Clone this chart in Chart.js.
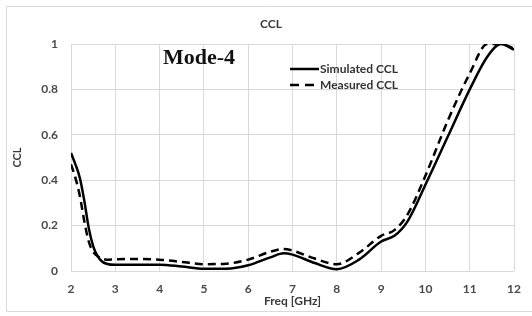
<!DOCTYPE html>
<html>
<head>
<meta charset="utf-8">
<script src="https://cdn.jsdelivr.net/npm/chart.js@4.4.1/dist/chart.umd.min.js"></script>
<style>
html,body{margin:0;padding:0;background:#fff;}
#wrap{position:relative;width:532px;height:316px;}
</style>
</head>
<body>
<div id="wrap"><canvas id="c" width="532" height="316"></canvas></div>
<script>
const freqGHz = [2, 2.1, 2.2, 2.3, 2.4, 2.5, 2.6, 2.7, 2.8, 3, 3.5, 4, 4.5, 5, 5.5, 6, 6.5, 6.8, 7, 7.5, 8, 8.5, 9, 9.3, 9.6, 10, 10.5, 11, 11.4, 11.7, 12];
const simulatedCCL = [0.52, 0.47, 0.41, 0.31, 0.19, 0.11, 0.065, 0.042, 0.032, 0.027, 0.027, 0.028, 0.02, 0.01, 0.01, 0.025, 0.06, 0.078, 0.072, 0.035, 0.008, 0.05, 0.13, 0.155, 0.22, 0.38, 0.59, 0.80, 0.945, 1.0, 0.975];
const measuredCCL = [0.47, 0.41, 0.33, 0.22, 0.13, 0.085, 0.065, 0.055, 0.05, 0.052, 0.053, 0.05, 0.04, 0.03, 0.032, 0.05, 0.085, 0.097, 0.09, 0.055, 0.03, 0.08, 0.155, 0.18, 0.25, 0.42, 0.66, 0.87, 1.0, 1.0, 0.98];
const xTicks = [2, 3, 4, 5, 6, 7, 8, 9, 10, 11, 12];
const yTicks = [0, 0.2, 0.4, 0.6, 0.8, 1];
const seriesNames = ['Simulated CCL', 'Measured CCL'];
const chartTitle = 'CCL';
const annotationText = 'Mode-4';
const xTitle = 'Freq [GHz]';
const yTitle = 'CCL';

const toPts = (ys) => freqGHz.map((f, i) => ({x: f, y: ys[i]}));
const TXT = '#3a3a3a';
const LBL = '#4a4a4a';
const GRID = '#d9d9d9';

const decor = {
  id: 'decor',
  beforeDraw(chart) {
    const ctx = chart.ctx;
    ctx.save();
    ctx.strokeStyle = '#d9d9d9';
    ctx.lineWidth = 1;
    ctx.beginPath();
    ctx.moveTo(532, 6.5); ctx.lineTo(6.5, 6.5); ctx.lineTo(6.5, 311.5); ctx.lineTo(532, 311.5);
    ctx.stroke();
    ctx.restore();
  },
  afterDraw(chart) {
    const ctx = chart.ctx;
    ctx.save();
    ctx.fillStyle = TXT;
    ctx.font = 'bold 12px Lato';
    ctx.textAlign = 'center';
    ctx.textBaseline = 'middle';
    ctx.fillText(chartTitle, 271, 24);
    ctx.fillStyle = '#111';
    ctx.font = 'bold 22px "Liberation Serif"';
    ctx.textAlign = 'left';
    ctx.fillText(annotationText, 163, 58);
    ctx.strokeStyle = '#000';
    ctx.lineWidth = 2.5;
    ctx.beginPath(); ctx.moveTo(290, 69); ctx.lineTo(319, 69); ctx.stroke();
    ctx.setLineDash([9, 6]);
    ctx.beginPath(); ctx.moveTo(290, 85); ctx.lineTo(317, 85); ctx.stroke();
    ctx.setLineDash([]);
    ctx.fillStyle = '#333';
    ctx.font = 'bold 12px Lato';
    ctx.fillText(seriesNames[0], 320, 69);
    ctx.fillText(seriesNames[1], 320, 85);
    ctx.restore();
  }
};

new Chart(document.getElementById('c'), {
  type: 'line',
  data: {
    datasets: [
      {label: seriesNames[0], data: toPts(simulatedCCL), borderColor: '#000', borderWidth: 2.5, pointRadius: 0, cubicInterpolationMode: 'monotone', fill: false},
      {label: seriesNames[1], data: toPts(measuredCCL), borderColor: '#000', borderWidth: 2.5, borderDash: [8, 5], pointRadius: 0, cubicInterpolationMode: 'monotone', fill: false}
    ]
  },
  options: {
    responsive: false,
    animation: false,
    devicePixelRatio: 1,
    layout: {padding: {left: 0, top: 44, right: 17, bottom: 0}},
    plugins: {legend: {display: false}, title: {display: false}, tooltip: {enabled: false}},
    scales: {
      x: {
        type: 'linear', min: 2, max: 12,
        afterBuildTicks: (s) => { s.ticks = xTicks.map(v => ({value: v})); },
        afterFit: (s) => { s.height = 45; },
        grid: {color: GRID, lineWidth: 1, drawTicks: false},
        border: {display: false},
        ticks: {padding: 11, color: LBL, font: {family: 'Lato', weight: 'bold', size: 12}, maxRotation: 0},
        title: {display: true, text: xTitle, color: TXT, font: {family: 'Lato', weight: 'bold', size: 12}, padding: {top: 0, bottom: 8}}
      },
      y: {
        type: 'linear', min: 0, max: 1,
        afterBuildTicks: (s) => { s.ticks = yTicks.map(v => ({value: v})); },
        afterFit: (s) => { s.width = 71; },
        grid: {color: GRID, lineWidth: 1, drawTicks: false},
        border: {display: false},
        ticks: {padding: 13, color: LBL, font: {family: 'Lato', weight: 'bold', size: 12}, callback: (v) => String(v)},
        title: {display: true, text: yTitle, color: TXT, font: {family: 'Lato', weight: 'bold', size: 11}, padding: {top: 11, bottom: 0}}
      }
    }
  },
  plugins: [decor]
});
</script>
</body>
</html>
